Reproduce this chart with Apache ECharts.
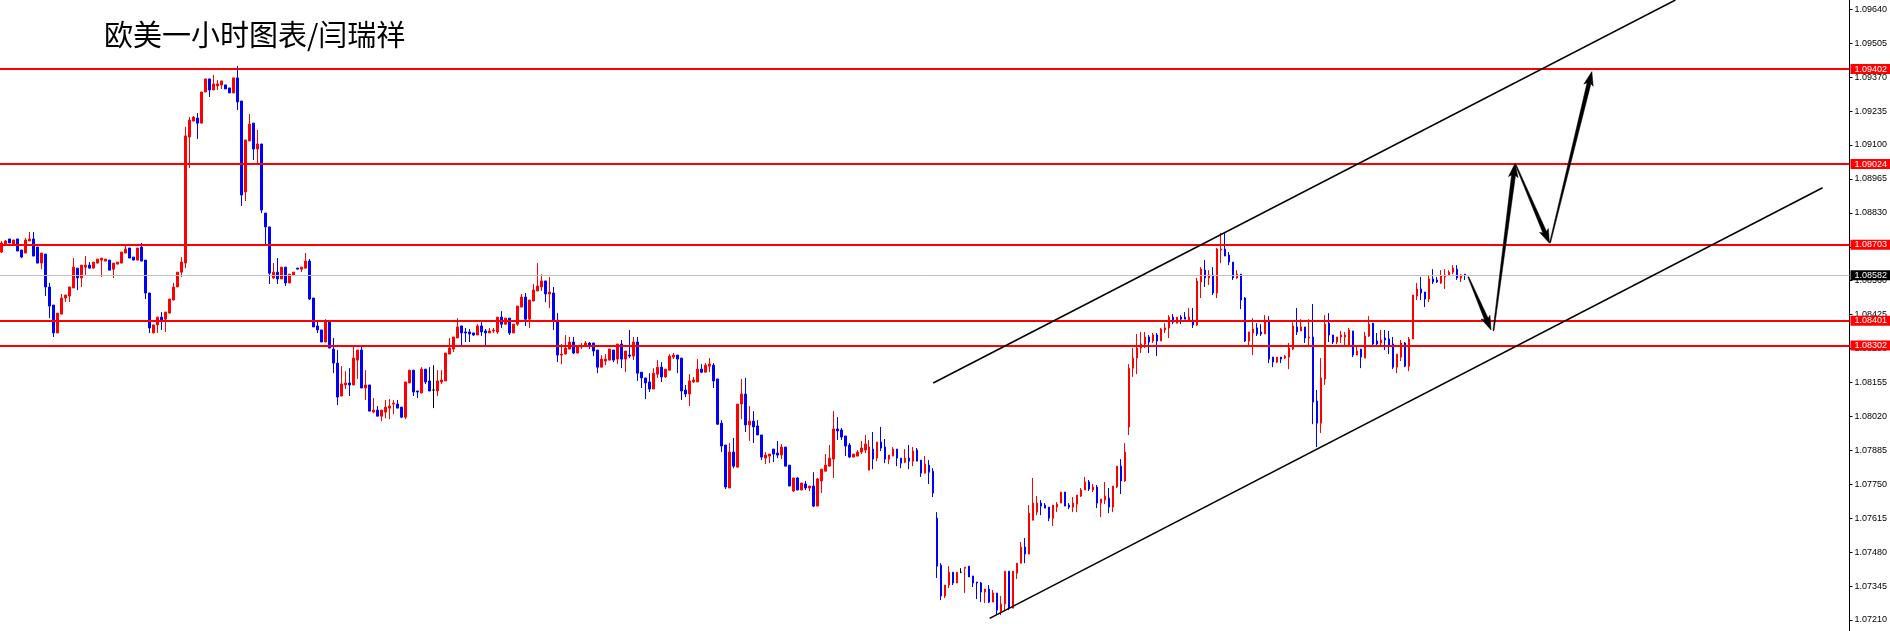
<!DOCTYPE html>
<html><head><meta charset="utf-8">
<script src="https://cdn.jsdelivr.net/npm/echarts@6/dist/echarts.min.js"></script>
<style>html,body{margin:0;padding:0;background:#fff}#c{width:1890px;height:631px}</style>
</head><body><div id="c"></div>
<script>
const chartTitle = '欧美一小时图表/闫瑞祥';

const opens = [1.08674,1.08706,1.08726,1.08702,1.08726,1.08682,1.08670,1.08718,1.08726,1.08694,
1.08630,1.08666,1.08535,1.08463,1.08352,1.08427,1.08491,1.08499,1.08531,1.08610,
1.08571,1.08614,1.08622,1.08610,1.08630,1.08642,1.08638,1.08642,1.08606,1.08626,
1.08630,1.08670,1.08690,1.08654,1.08642,1.08694,1.08642,1.08511,1.08352,1.08384,
1.08415,1.08407,1.08431,1.08483,1.08535,1.08594,1.08630,1.09132,1.09195,1.09207,
1.09187,1.09311,1.09363,1.09319,1.09335,1.09339,1.09339,1.09327,1.09307,1.09367,
1.09275,1.08913,1.09116,1.09187,1.09084,1.09104,1.08829,1.08774,1.08571,1.08594,
1.08567,1.08614,1.08551,1.08583,1.08610,1.08606,1.08610,1.08638,1.08491,1.08380,
1.08364,1.08316,1.08395,1.08288,1.08232,1.08101,1.08145,1.08153,1.08145,1.08244,
1.08284,1.08133,1.08145,1.08037,1.08045,1.08021,1.08037,1.08053,1.08069,1.08069,
1.08057,1.08017,1.08153,1.08204,1.08121,1.08113,1.08208,1.08161,1.08125,1.08121,
1.08157,1.08161,1.08268,1.08288,1.08332,1.08380,1.08356,1.08356,1.08352,1.08344,
1.08380,1.08360,1.08352,1.08360,1.08356,1.08415,1.08387,1.08411,1.08352,1.08387,
1.08455,1.08495,1.08407,1.08479,1.08519,1.08535,1.08559,1.08507,1.08511,1.08403,
1.08264,1.08268,1.08288,1.08316,1.08272,1.08296,1.08304,1.08312,1.08312,1.08284,
1.08216,1.08240,1.08244,1.08284,1.08248,1.08308,1.08248,1.08264,1.08260,1.08316,
1.08196,1.08173,1.08157,1.08129,1.08188,1.08216,1.08177,1.08204,1.08256,1.08264,
1.08252,1.08125,1.08109,1.08157,1.08157,1.08208,1.08196,1.08220,1.08224,1.08169,
1.07993,1.07906,1.07735,1.07878,1.07818,1.08069,1.08109,1.07986,1.08001,1.07982,
1.07946,1.07854,1.07862,1.07890,1.07874,1.07866,1.07898,1.07826,1.07723,1.07775,
1.07727,1.07751,1.07735,1.07743,1.07663,1.07763,1.07802,1.07822,1.07850,1.07970,
1.07966,1.07942,1.07906,1.07858,1.07862,1.07878,1.07886,1.07806,1.07890,1.07854,
1.07918,1.07898,1.07850,1.07862,1.07890,1.07854,1.07838,1.07854,1.07842,1.07886,
1.07846,1.07794,1.07826,1.07802,1.07615,1.07428,1.07305,1.07349,1.07400,1.07357,
1.07400,1.07416,1.07424,1.07385,1.07361,1.07357,1.07321,1.07333,1.07281,1.07317,
1.07245,1.07273,1.07404,1.07257,1.07396,1.07436,1.07500,1.07472,1.07607,1.07639,
1.07675,1.07667,1.07659,1.07615,1.07659,1.07675,1.07719,1.07667,1.07659,1.07671,
1.07703,1.07727,1.07759,1.07727,1.07739,1.07675,1.07687,1.07695,1.07659,1.07739,
1.07822,1.07763,1.07978,1.08212,1.08252,1.08292,1.08308,1.08336,1.08320,1.08344,
1.08320,1.08364,1.08372,1.08415,1.08391,1.08415,1.08415,1.08403,1.08403,1.08384,
1.08555,1.08602,1.08571,1.08583,1.08511,1.08682,1.08686,1.08662,1.08634,1.08571,
1.08586,1.08491,1.08320,1.08352,1.08372,1.08356,1.08348,1.08403,1.08256,1.08236,
1.08256,1.08252,1.08256,1.08288,1.08376,1.08360,1.08376,1.08332,1.08336,1.08081,
1.07993,1.08169,1.08391,1.08344,1.08316,1.08336,1.08336,1.08300,1.08360,1.08264,
1.08288,1.08252,1.08340,1.08391,1.08320,1.08312,1.08332,1.08328,1.08308,1.08216,
1.08256,1.08312,1.08220,1.08328,1.08499,1.08527,1.08515,1.08487,1.08567,1.08563,
1.08551,1.08575,1.08583,1.08594,1.08606,1.08571,1.08586];

const closes = [1.08710,1.08718,1.08710,1.08722,1.08678,1.08654,1.08722,1.08726,1.08658,1.08630,
1.08670,1.08535,1.08459,1.08352,1.08431,1.08491,1.08503,1.08535,1.08614,1.08571,
1.08622,1.08622,1.08610,1.08634,1.08646,1.08650,1.08646,1.08602,1.08630,1.08634,
1.08674,1.08686,1.08650,1.08642,1.08690,1.08638,1.08511,1.08372,1.08384,1.08415,
1.08403,1.08435,1.08487,1.08535,1.08594,1.08634,1.09136,1.09199,1.09211,1.09187,
1.09311,1.09363,1.09319,1.09343,1.09343,1.09355,1.09323,1.09307,1.09367,1.09271,
1.08901,1.09120,1.09183,1.09084,1.09104,1.08841,1.08774,1.08590,1.08594,1.08567,
1.08614,1.08551,1.08586,1.08594,1.08606,1.08614,1.08638,1.08487,1.08376,1.08364,
1.08316,1.08399,1.08292,1.08232,1.08097,1.08149,1.08153,1.08145,1.08252,1.08284,
1.08133,1.08145,1.08041,1.08045,1.08021,1.08045,1.08057,1.08061,1.08073,1.08053,
1.08017,1.08157,1.08204,1.08117,1.08117,1.08208,1.08157,1.08121,1.08125,1.08161,
1.08165,1.08272,1.08292,1.08336,1.08376,1.08352,1.08352,1.08348,1.08344,1.08380,
1.08356,1.08352,1.08360,1.08364,1.08415,1.08387,1.08411,1.08352,1.08387,1.08459,
1.08495,1.08407,1.08483,1.08523,1.08539,1.08559,1.08507,1.08515,1.08403,1.08264,
1.08268,1.08292,1.08316,1.08272,1.08300,1.08300,1.08312,1.08304,1.08280,1.08216,
1.08248,1.08248,1.08288,1.08244,1.08308,1.08248,1.08280,1.08260,1.08316,1.08192,
1.08173,1.08153,1.08129,1.08192,1.08216,1.08177,1.08208,1.08260,1.08264,1.08248,
1.08121,1.08109,1.08161,1.08165,1.08208,1.08196,1.08224,1.08228,1.08161,1.07989,
1.07902,1.07739,1.07878,1.07822,1.08069,1.08109,1.07986,1.08001,1.07978,1.07946,
1.07858,1.07866,1.07870,1.07870,1.07866,1.07898,1.07822,1.07743,1.07775,1.07727,
1.07755,1.07735,1.07743,1.07663,1.07771,1.07810,1.07826,1.07854,1.07970,1.07962,
1.07938,1.07902,1.07858,1.07870,1.07878,1.07894,1.07910,1.07898,1.07850,1.07918,
1.07894,1.07850,1.07866,1.07890,1.07854,1.07834,1.07854,1.07842,1.07882,1.07842,
1.07794,1.07830,1.07798,1.07715,1.07424,1.07305,1.07349,1.07400,1.07357,1.07400,
1.07400,1.07420,1.07381,1.07357,1.07357,1.07321,1.07333,1.07281,1.07317,1.07249,
1.07273,1.07404,1.07257,1.07404,1.07436,1.07500,1.07472,1.07635,1.07675,1.07675,
1.07663,1.07655,1.07615,1.07667,1.07671,1.07719,1.07663,1.07659,1.07675,1.07707,
1.07727,1.07759,1.07731,1.07739,1.07675,1.07691,1.07703,1.07659,1.07743,1.07822,
1.07763,1.07878,1.08212,1.08252,1.08292,1.08308,1.08336,1.08316,1.08344,1.08320,
1.08368,1.08372,1.08415,1.08395,1.08415,1.08407,1.08407,1.08415,1.08384,1.08559,
1.08606,1.08571,1.08583,1.08511,1.08686,1.08686,1.08658,1.08634,1.08571,1.08586,
1.08483,1.08320,1.08356,1.08368,1.08348,1.08348,1.08403,1.08248,1.08236,1.08256,
1.08248,1.08260,1.08292,1.08380,1.08356,1.08376,1.08332,1.08336,1.08077,1.07993,
1.08173,1.08387,1.08344,1.08316,1.08336,1.08344,1.08344,1.08364,1.08264,1.08280,
1.08256,1.08340,1.08387,1.08308,1.08308,1.08324,1.08324,1.08304,1.08216,1.08268,
1.08312,1.08220,1.08328,1.08503,1.08527,1.08511,1.08487,1.08567,1.08555,1.08555,
1.08579,1.08583,1.08594,1.08610,1.08571,1.08583,1.08582];

const lows = [1.08670,1.08702,1.08710,1.08702,1.08678,1.08650,1.08670,1.08718,1.08658,1.08630,
1.08606,1.08499,1.08411,1.08336,1.08352,1.08427,1.08475,1.08475,1.08531,1.08523,
1.08535,1.08583,1.08610,1.08610,1.08630,1.08575,1.08638,1.08602,1.08571,1.08626,
1.08630,1.08670,1.08650,1.08642,1.08642,1.08638,1.08487,1.08352,1.08352,1.08352,
1.08364,1.08356,1.08431,1.08483,1.08535,1.08575,1.08610,1.09008,1.09195,1.09124,
1.09187,1.09311,1.09291,1.09319,1.09319,1.09323,1.09323,1.09307,1.09307,1.09239,
1.08857,1.08877,1.09116,1.09040,1.09028,1.08829,1.08698,1.08547,1.08567,1.08547,
1.08567,1.08539,1.08551,1.08583,1.08606,1.08594,1.08610,1.08483,1.08376,1.08352,
1.08316,1.08316,1.08292,1.08192,1.08065,1.08101,1.08129,1.08101,1.08145,1.08169,
1.08133,1.08085,1.08041,1.08033,1.08021,1.08001,1.08013,1.08009,1.08029,1.08053,
1.08013,1.08009,1.08153,1.08101,1.08093,1.08113,1.08149,1.08121,1.08053,1.08101,
1.08149,1.08161,1.08268,1.08276,1.08332,1.08304,1.08316,1.08316,1.08340,1.08344,
1.08340,1.08304,1.08352,1.08352,1.08348,1.08372,1.08384,1.08344,1.08352,1.08380,
1.08455,1.08380,1.08372,1.08479,1.08519,1.08519,1.08475,1.08451,1.08364,1.08236,
1.08228,1.08268,1.08288,1.08268,1.08272,1.08288,1.08304,1.08288,1.08260,1.08192,
1.08216,1.08224,1.08244,1.08236,1.08228,1.08212,1.08196,1.08252,1.08244,1.08161,
1.08133,1.08089,1.08117,1.08129,1.08173,1.08157,1.08173,1.08204,1.08248,1.08192,
1.08085,1.08097,1.08061,1.08153,1.08157,1.08192,1.08196,1.08196,1.08133,1.07986,
1.07878,1.07731,1.07735,1.07814,1.07818,1.08009,1.07958,1.07922,1.07914,1.07946,
1.07846,1.07830,1.07834,1.07838,1.07854,1.07850,1.07822,1.07743,1.07719,1.07727,
1.07727,1.07727,1.07723,1.07659,1.07663,1.07715,1.07802,1.07822,1.07775,1.07926,
1.07926,1.07862,1.07854,1.07858,1.07862,1.07870,1.07874,1.07806,1.07810,1.07842,
1.07882,1.07834,1.07830,1.07862,1.07822,1.07814,1.07834,1.07810,1.07822,1.07842,
1.07779,1.07794,1.07751,1.07699,1.07377,1.07289,1.07297,1.07337,1.07349,1.07357,
1.07396,1.07317,1.07381,1.07341,1.07293,1.07281,1.07277,1.07277,1.07281,1.07233,
1.07229,1.07245,1.07249,1.07257,1.07373,1.07436,1.07436,1.07472,1.07607,1.07627,
1.07627,1.07655,1.07603,1.07584,1.07639,1.07675,1.07663,1.07651,1.07639,1.07639,
1.07699,1.07727,1.07723,1.07719,1.07655,1.07619,1.07671,1.07635,1.07639,1.07735,
1.07711,1.07759,1.07946,1.08177,1.08188,1.08272,1.08292,1.08272,1.08312,1.08260,
1.08320,1.08352,1.08332,1.08387,1.08391,1.08387,1.08407,1.08403,1.08372,1.08380,
1.08491,1.08535,1.08543,1.08503,1.08491,1.08630,1.08658,1.08622,1.08563,1.08567,
1.08447,1.08316,1.08304,1.08264,1.08340,1.08340,1.08348,1.08232,1.08216,1.08232,
1.08232,1.08248,1.08208,1.08284,1.08344,1.08360,1.08312,1.08296,1.07989,1.07898,
1.07954,1.08145,1.08316,1.08308,1.08308,1.08312,1.08300,1.08296,1.08256,1.08264,
1.08212,1.08252,1.08336,1.08296,1.08300,1.08296,1.08284,1.08268,1.08208,1.08192,
1.08240,1.08216,1.08200,1.08328,1.08483,1.08483,1.08455,1.08475,1.08547,1.08551,
1.08547,1.08527,1.08579,1.08586,1.08563,1.08555,1.08563];

const highs = [1.08718,1.08722,1.08726,1.08722,1.08726,1.08682,1.08730,1.08754,1.08754,1.08694,
1.08670,1.08666,1.08551,1.08463,1.08431,1.08507,1.08503,1.08535,1.08650,1.08610,
1.08622,1.08658,1.08634,1.08634,1.08646,1.08650,1.08646,1.08642,1.08630,1.08634,
1.08674,1.08698,1.08690,1.08654,1.08690,1.08710,1.08642,1.08511,1.08384,1.08415,
1.08435,1.08435,1.08487,1.08551,1.08594,1.08654,1.09172,1.09211,1.09215,1.09227,
1.09311,1.09363,1.09363,1.09379,1.09359,1.09355,1.09339,1.09327,1.09367,1.09414,
1.09275,1.09120,1.09223,1.09187,1.09160,1.09104,1.08829,1.08774,1.08630,1.08650,
1.08614,1.08614,1.08586,1.08594,1.08610,1.08614,1.08670,1.08646,1.08491,1.08403,
1.08364,1.08407,1.08395,1.08332,1.08284,1.08220,1.08200,1.08212,1.08296,1.08284,
1.08296,1.08204,1.08145,1.08093,1.08061,1.08045,1.08085,1.08089,1.08085,1.08085,
1.08057,1.08157,1.08204,1.08204,1.08121,1.08216,1.08208,1.08216,1.08224,1.08204,
1.08204,1.08272,1.08332,1.08336,1.08411,1.08380,1.08372,1.08368,1.08352,1.08387,
1.08395,1.08368,1.08372,1.08372,1.08415,1.08439,1.08411,1.08411,1.08387,1.08459,
1.08507,1.08511,1.08483,1.08547,1.08630,1.08586,1.08559,1.08575,1.08535,1.08431,
1.08308,1.08344,1.08336,1.08336,1.08300,1.08312,1.08320,1.08316,1.08312,1.08284,
1.08264,1.08268,1.08288,1.08284,1.08308,1.08324,1.08280,1.08364,1.08336,1.08336,
1.08196,1.08173,1.08192,1.08212,1.08244,1.08236,1.08208,1.08268,1.08272,1.08264,
1.08252,1.08145,1.08188,1.08177,1.08248,1.08228,1.08232,1.08252,1.08232,1.08169,
1.08005,1.07906,1.07914,1.07934,1.08069,1.08169,1.08173,1.08061,1.08041,1.08005,
1.07946,1.07878,1.07870,1.07890,1.07922,1.07910,1.07898,1.07826,1.07775,1.07779,
1.07755,1.07763,1.07743,1.07798,1.07775,1.07810,1.07870,1.07906,1.08041,1.08017,
1.07974,1.07942,1.07914,1.07870,1.07886,1.07922,1.07946,1.07926,1.07958,1.07918,
1.07978,1.07930,1.07866,1.07898,1.07890,1.07854,1.07890,1.07906,1.07898,1.07894,
1.07846,1.07862,1.07846,1.07814,1.07639,1.07436,1.07349,1.07424,1.07400,1.07400,
1.07416,1.07420,1.07424,1.07385,1.07361,1.07361,1.07333,1.07349,1.07329,1.07317,
1.07305,1.07404,1.07404,1.07404,1.07436,1.07520,1.07536,1.07667,1.07775,1.07703,
1.07687,1.07675,1.07659,1.07667,1.07679,1.07719,1.07719,1.07675,1.07699,1.07707,
1.07735,1.07779,1.07767,1.07751,1.07747,1.07691,1.07759,1.07735,1.07743,1.07822,
1.07850,1.07914,1.08228,1.08292,1.08348,1.08356,1.08356,1.08344,1.08352,1.08352,
1.08372,1.08391,1.08423,1.08427,1.08415,1.08423,1.08435,1.08451,1.08451,1.08571,
1.08614,1.08642,1.08602,1.08614,1.08690,1.08750,1.08754,1.08674,1.08634,1.08602,
1.08586,1.08495,1.08356,1.08411,1.08391,1.08387,1.08423,1.08419,1.08256,1.08256,
1.08256,1.08264,1.08312,1.08395,1.08451,1.08407,1.08376,1.08407,1.08467,1.08125,
1.08252,1.08423,1.08431,1.08344,1.08336,1.08360,1.08356,1.08372,1.08360,1.08296,
1.08288,1.08356,1.08419,1.08391,1.08352,1.08364,1.08364,1.08360,1.08336,1.08268,
1.08324,1.08316,1.08336,1.08503,1.08551,1.08575,1.08515,1.08579,1.08606,1.08575,
1.08602,1.08606,1.08602,1.08622,1.08622,1.08586,1.08586];

const levelPrices = [1.09402, 1.09024, 1.08703, 1.08401, 1.08302];
const currentPrice = 1.08582;
const priceTicks = [1.07210,1.07345,1.07480,1.07615,1.07750,1.07885,1.08020,1.08155,1.08290,1.08425,
1.08560,1.08695,1.08830,1.08965,1.09100,1.09235,1.09370,1.09505,1.09640];
const priceMin = 1.07166, priceMax = 1.09677;
const barMin = -0.375, barMax = 462.125;
const channelUpper = [[233, 1.08153], [418.6, 1.09677]];
const channelLower = [[247.1, 1.07216], [455.4, 1.08930]];
const forecastArrows = [
  [366.8, 1.08575, 372.5, 1.08364],
  [373.1, 1.08361, 378.5, 1.09027],
  [378.7, 1.09020, 387.1, 1.08709],
  [387.25, 1.08711, 397.7, 1.09392]
];

const candleData = opens.map((o, i) => [i, o, closes[i], lows[i], highs[i]]);

function renderArrow(params, api) {
  const p0 = api.coord([api.value(0), api.value(1)]);
  const p1 = api.coord([api.value(2), api.value(3)]);
  const dx = p1[0] - p0[0], dy = p1[1] - p0[1];
  const len = Math.hypot(dx, dy);
  const ux = dx / len, uy = dy / len, nx = -uy, ny = ux;
  const headLen = 12, headW = 4.8, tailW = 0.5, neckW = 2;
  const bx = p1[0] - ux * headLen, by = p1[1] - uy * headLen;
  const pts = [
    [p0[0] + nx * tailW, p0[1] + ny * tailW],
    [bx + nx * neckW, by + ny * neckW],
    [bx + nx * headW - ux * 2, by + ny * headW - uy * 2],
    [p1[0], p1[1]],
    [bx - nx * headW - ux * 2, by - ny * headW - uy * 2],
    [bx - nx * neckW, by - ny * neckW],
    [p0[0] - nx * tailW, p0[1] - ny * tailW]
  ];
  return { type: 'polygon', shape: { points: pts }, style: { fill: '#000', stroke: '#000', lineWidth: 0.5 } };
}

const markLineData = levelPrices.map(v => ({
  yAxis: v,
  lineStyle: { color: '#ff0000', width: 2, type: 'solid' },
  label: { backgroundColor: '#ff0000', color: '#ffffff' }
}));
markLineData.unshift({
  yAxis: currentPrice,
  lineStyle: { color: '#c0c0c0', width: 1, type: 'solid' },
  label: { backgroundColor: '#000000', color: '#ffffff' }
});

const chart = echarts.init(document.getElementById('c'), null, { renderer: 'canvas' });
chart.setOption({
  animation: false,
  backgroundColor: '#ffffff',
  title: {
    text: chartTitle, left: 104, top: 20, padding: 0,
    textStyle: { fontSize: 29, fontWeight: 'normal', color: '#000', fontFamily: 'Noto Sans CJK SC', lineHeight: 29 }
  },
  grid: { left: 0, right: 40, top: 0, bottom: 0, containLabel: false },
  xAxis: { type: 'value', min: barMin, max: barMax, show: false },
  yAxis: {
    type: 'value', position: 'right', min: priceMin, max: priceMax,
    axisLine: { show: true, onZero: false, lineStyle: { color: '#000', width: 1 } },
    axisTick: { show: true, length: 3, lineStyle: { color: '#000' }, customValues: priceTicks },
    axisLabel: { show: true, customValues: priceTicks, formatter: v => Number(v).toFixed(5),
      color: '#000', fontSize: 9, fontFamily: 'Liberation Sans', margin: 5 },
    splitLine: { show: false }
  },
  series: [
    {
      type: 'candlestick', data: candleData,
      encode: { x: 0, y: [1, 2, 3, 4] },
      barWidth: 2,
      itemStyle: { color: '#ff0000', color0: '#0000ff', borderColor: '#ff0000', borderColor0: '#0000ff',
        borderColorDoji: '#000000', borderWidth: 1 },
      silent: true,
      markLine: {
        symbol: ['none', 'none'], silent: true, animation: false, precision: 5,
        label: { show: true, position: 'end', distance: 1, formatter: p => Number(p.value).toFixed(5),
          fontSize: 9, fontFamily: 'Liberation Sans', padding: [0, 5, 0, 4], lineHeight: 10 },
        data: markLineData
      }
    },
    {
      type: 'line', data: channelUpper, symbol: 'none', silent: true, z: 6,
      lineStyle: { color: '#000', width: 1.5 }, clip: true
    },
    {
      type: 'line', data: channelLower, symbol: 'none', silent: true, z: 6,
      lineStyle: { color: '#000', width: 1.5 }, clip: true
    },
    {
      type: 'custom', data: forecastArrows, renderItem: renderArrow,
      encode: { x: [0, 2], y: [1, 3] }, silent: true, z: 7, clip: false
    }
  ]
});
</script></body></html>
